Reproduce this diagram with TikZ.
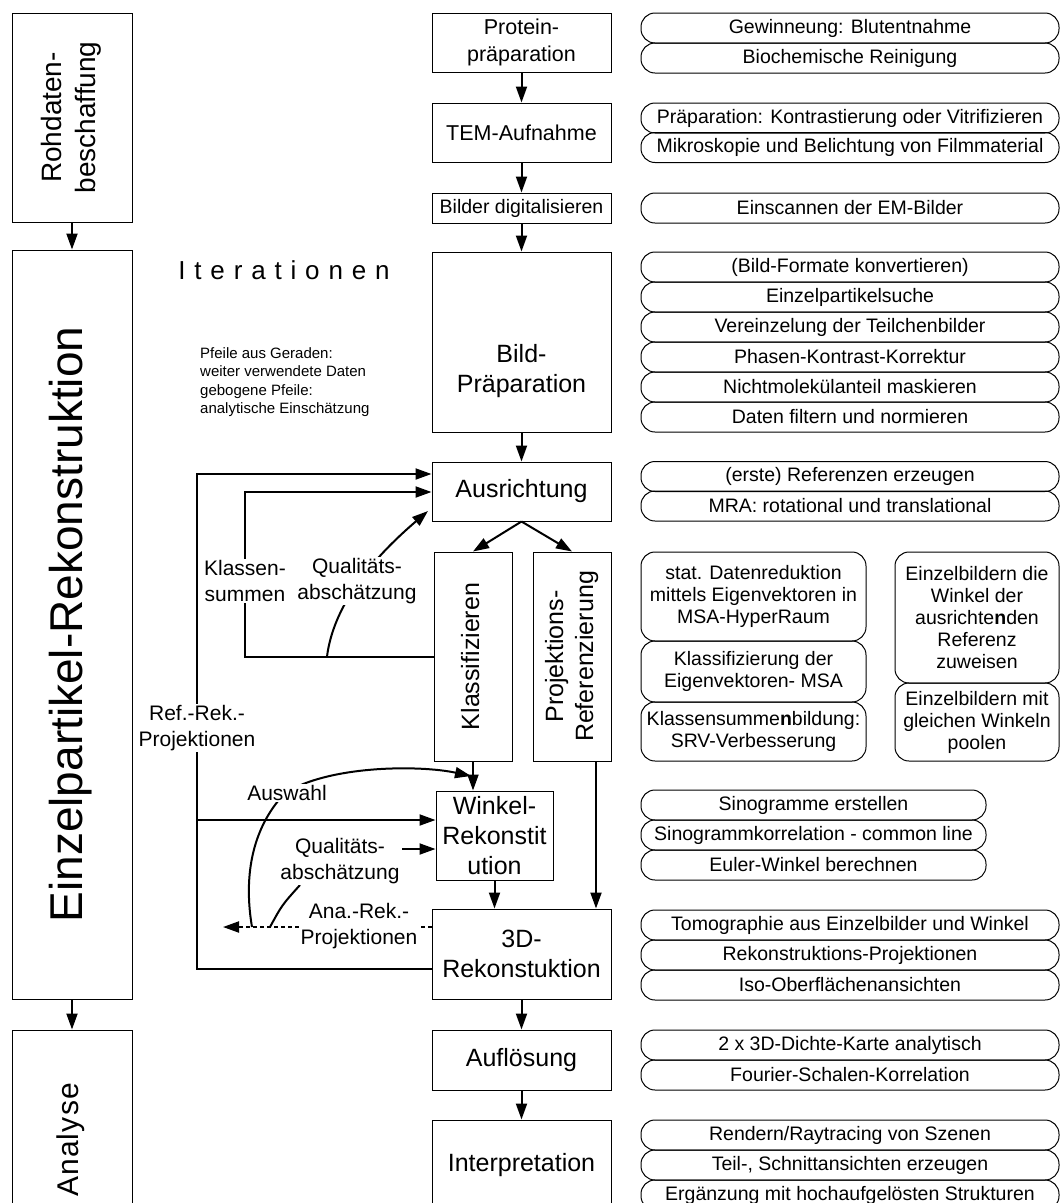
\documentclass[tikz,border=0pt]{standalone}
\usepackage{fontspec}
\setmainfont{Liberation Sans}
\usepackage{tikz}
\usetikzlibrary{arrows.meta}

\newcommand{\rowfont}{\fontsize{19.5}{22}\selectfont}
\newcommand{\stagefont}{\fontsize{25}{30}\selectfont}
\newcommand{\smallstagefont}{\fontsize{21.5}{27}\selectfont}
\newcommand{\labelfont}{\fontsize{21}{26}\selectfont}
\newcommand{\notefont}{\fontsize{15}{18}\selectfont}
\newcommand{\phasefont}{\fontsize{28}{34}\selectfont}
\newcommand{\bigfont}{\fontsize{46}{52}\selectfont}
\newcommand{\iterfont}{\fontsize{26}{30}\selectfont\addfontfeature{LetterSpace=34}}
\newcommand{\analysefont}{\fontsize{30}{34}\selectfont\addfontfeature{LetterSpace=4}}
\newcommand{\vtext}[1]{\rotatebox{90}{\begin{tabular}{@{}c@{}}#1\end{tabular}}}
\newcommand{\lowtext}[2]{\raisebox{#1}[0pt][0pt]{\begin{tabular}{@{}c@{}}#2\end{tabular}}}

\tikzset{
  phase/.style={draw, line width=1pt, minimum width=120pt, inner sep=0pt},
  stage/.style={draw, line width=1pt, minimum width=179pt, inner sep=0pt, align=center, font=\stagefont},
  row/.style={draw, line width=1pt, rounded corners=14pt, inner sep=0pt, minimum height=30pt, minimum width=418pt, align=center, font=\rowfont},
  flow/.style={line width=2pt, -{Triangle[length=16pt,width=11pt]}},
  dashflow/.style={flow, dash pattern=on 4pt off 3pt},
  bendline/.style={line width=2pt},
  lbl/.style={fill=white, inner sep=1pt, align=center, font=\labelfont},
  note/.style={inner sep=0pt, align=left, font=\notefont}
}

\begin{document}
\begin{tikzpicture}[x=1pt,y=-1pt]
\useasboundingbox (0,0) rectangle (1060,1203);
\clip (0,0) rectangle (1060,1203);

% phases
\node[phase, minimum height=209pt, font=\phasefont] (rohd) at (72,117.5) {\vtext{Rohdaten-\\beschaffung}};
\node[phase, minimum height=749pt, font=\bigfont] (einz) at (72,624.5) {\vtext{Einzelpartikel-Rekonstruktion}};
\node[phase, minimum height=220pt, font=\analysefont] (analy) at (72,1140) {\vtext{Analyse}};

% steps
\node[stage, minimum height=59pt, font=\smallstagefont] (prot) at (521.5,42.5) {Protein-\\präparation};
\node[stage, minimum height=59pt, font=\smallstagefont] (tem) at (521.5,132.5) {TEM-Aufnahme};
\node[stage, minimum height=30pt, font=\fontsize{19.5}{22}\selectfont] (digi) at (521.5,208) {Bilder digitalisieren};
\node[stage, minimum height=180pt] (bprep) at (521.5,342) {\lowtext{-36pt}{Bild-\\Präparation}};
\node[stage, minimum height=59pt] (ausr) at (521.5,491.5) {Ausrichtung};
\node[stage, minimum width=78pt, minimum height=209pt] (klass) at (473,656.5) {\vtext{Klassifizieren}};
\node[stage, minimum width=78pt, minimum height=209pt] (proj) at (572,656.5) {\vtext{Projektions-\\Referenzierung}};
\node[stage, minimum width=117pt, minimum height=89pt] (wink) at (494.5,835.5) {Winkel-\\Rekonstit\\ution};
\node[stage, minimum height=90pt] (rek) at (521.5,954) {3D-\\Rekonstuktion};
\node[stage, minimum height=60pt] (aufl) at (521.5,1060) {Auflösung};
\node[stage, minimum height=90pt] (interp) at (521.5,1165) {Interpretation};

% details
\node[row] (gewinn) at (850,28) {Gewinneung: Blutentnahme};
\node[row] (reinig) at (850,58) {Biochemische Reinigung};
\node[row] (kontrast) at (850,118) {Präparation: Kontrastierung oder Vitrifizieren};
\node[row] (mikro) at (850,147.5) {Mikroskopie und Belichtung von Filmmaterial};
\node[row] (scan) at (850,208) {Einscannen der EM-Bilder};
\node[row] (konv) at (850,267) {(Bild-Formate konvertieren)};
\node[row] (suche) at (850,297) {Einzelpartikelsuche};
\node[row] (vereinz) at (850,327) {Vereinzelung der Teilchenbilder};
\node[row] (phasen) at (850,357) {Phasen-Kontrast-Korrektur};
\node[row] (maske) at (850,387) {Nichtmolekülanteil maskieren};
\node[row] (filter) at (850,417) {Daten filtern und normieren};
\node[row] (erste) at (850,476.5) {(erste) Referenzen erzeugen};
\node[row] (mra) at (850,506) {MRA: rotational und translational};
\node[row, minimum width=225pt, minimum height=89pt] (msa) at (753.5,596.5) {stat. Datenreduktion\\mittels Eigenvektoren in\\MSA-HyperRaum};
\node[row, minimum width=225pt, minimum height=61pt] (klmsa) at (753.5,671.5) {Klassifizierung der\\Eigenvektoren- MSA};
\node[row, minimum width=225pt, minimum height=59pt] (srv) at (753.5,731.5) {Klassensumme\textbf{n}bildung:\\SRV-Verbesserung};
\node[row, minimum width=164pt, minimum height=131pt] (zuweis) at (977,617.5) {Einzelbildern die\\Winkel der\\ausrichte\textbf{n}den\\Referenz\\zuweisen};
\node[row, minimum width=164pt, minimum height=78pt] (pool) at (977,722) {Einzelbildern mit\\gleichen Winkeln\\poolen};
\node[row, minimum width=345pt] (sino) at (813.5,805) {Sinogramme erstellen};
\node[row, minimum width=345pt] (common) at (813.5,835) {Sinogrammkorrelation - common line};
\node[row, minimum width=345pt] (euler) at (813.5,865) {Euler-Winkel berechnen};
\node[row] (tomo) at (850,925) {Tomographie aus Einzelbilder und Winkel};
\node[row] (rproj) at (850,955) {Rekonstruktions-Projektionen};
\node[row] (iso) at (850,985) {Iso-Oberflächenansichten};
\node[row] (dichte) at (850,1045) {2 x 3D-Dichte-Karte analytisch};
\node[row] (fsc) at (850,1075) {Fourier-Schalen-Korrelation};
\node[row] (render) at (850,1135) {Rendern/Raytracing von Szenen};
\node[row] (schnitt) at (850,1165) {Teil-, Schnittansichten erzeugen};
\node[row] (hochauf) at (850,1195) {Ergänzung mit hochaufgelösten Strukturen};

\node[font=\iterfont] (iter) at (284,270) {Iterationen};
\node[note, anchor=west] (legstraight) at (200,362) {Pfeile aus Geraden:\\weiter verwendete Daten};
\node[note, anchor=west] (legcurved) at (200,401) {gebogene Pfeile:\\analytische Einschätzung};

% main flow
\draw[flow] (rohd) -- (einz);
\draw[flow] (einz) -- (analy);
\draw[flow] (prot) -- (tem);
\draw[flow] (tem) -- (digi);
\draw[flow] (digi) -- (bprep);
\draw[flow] (bprep) -- (ausr);
\draw[flow] (ausr.south) -- (klass.north);
\draw[flow] (ausr.south) -- (proj.north);
\draw[flow] (klass.south) -- (klass.south |- wink.north);
\draw[flow] (wink.south) -- (wink.south |- rek.north);
\draw[flow] ([xshift=24pt]proj.south) -- ([xshift=24pt]proj.south |- rek.north);
\draw[flow] (rek) -- (aufl);
\draw[flow] (aufl) -- (interp);

% iteration loops
\coordinate (looptop) at (197,474);
\coordinate (loopmid) at (197,820);
\coordinate (loopbot) at (197,969);
\coordinate (ksumtop) at (245,492);
\coordinate (q1start) at (327,656.5);
\coordinate (q1end) at (428,511);
\coordinate (q2start) at (402,849);
\coordinate (q2line) at (270,927);
\coordinate (q2end) at (300,885);
\coordinate (anaend) at (223,927);
\coordinate (auswstart) at (252,927);
\coordinate (auswend) at (471,776);

\draw[flow] (rek.west |- loopbot) -- (loopbot) -- (looptop) -- (ausr.west |- looptop);
\draw[flow] (loopmid) -- (wink.west |- loopmid);
\draw[flow] (klass.west) -- (klass.west -| ksumtop) -- (ksumtop) -- (ausr.west |- ksumtop);
\draw[flow] (q1start) .. controls (333,610) and (365,565) .. (q1end);
\draw[flow] (q2start) -- (wink.west |- q2start);
\draw[dashflow] (rek.west |- anaend) -- (anaend);
\draw[bendline] (q2line) .. controls (282,905) .. (q2end);
\draw[flow] (auswstart) .. controls (244,880) and (250,830) .. (285,793) .. controls (330,765) and (420,765) .. (auswend);

\node[lbl] (refrek) at (197,728) {Ref.-Rek.-\\Projektionen};
\node[lbl] (klsum) at (245,581) {Klassen-\\summen};
\node[lbl] (qual1) at (357,581) {Qualitäts-\\abschätzung};
\node[lbl] (auswahl) at (287,793) {Auswahl};
\node[lbl] (qual2) at (340,861) {Qualitäts-\\abschätzung};
\node[lbl] (anarek) at (359,926.5) {Ana.-Rek.-\\Projektionen};

%% \draw (0,0) grid (1060,1203);
\end{tikzpicture}
\end{document}
